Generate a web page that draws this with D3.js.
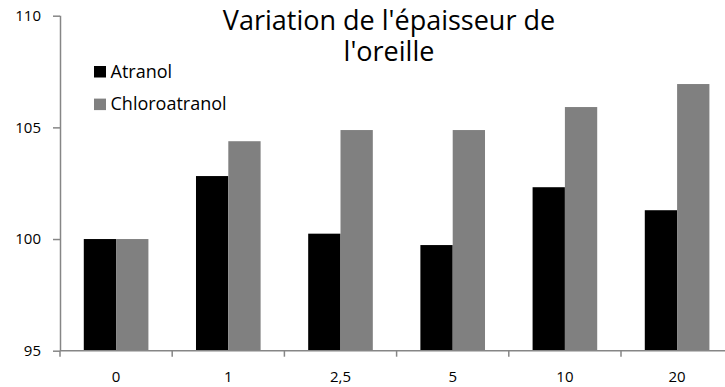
<!DOCTYPE html>
<html>
<head>
<meta charset="utf-8">
<script src="https://cdn.jsdelivr.net/npm/d3@7"></script>
<style>
  html, body { margin: 0; padding: 0; background: #fff; }
  svg { display: block; font-family: "Open Sans", Lato, sans-serif; }
</style>
</head>
<body>
<svg id="chart" width="725" height="387"></svg>
<script>
// Doses (x categories) and ear-thickness variation per compound
const categories = ["0", "1", "2,5", "5", "10", "20"];
const seriesNames = ["Atranol", "Chloroatranol"];
const atranol = [100, 102.82, 100.24, 99.73, 102.32, 101.29];
const chloroatranol = [100, 104.38, 104.88, 104.88, 105.91, 106.94];
const yTicks = [95, 100, 105, 110];
const titleLines = ["Variation de l'épaisseur de", "l'oreille"];

const colors = { "Atranol": "#000000", "Chloroatranol": "#808080" };
const axisColor = "#868686";

const svg = d3.select("#chart");

const plotLeft = 60, plotTop = 15.7, plotBottom = 350.7, step = 112.2;

const x0 = d3.scaleBand()
  .domain(categories)
  .range([plotLeft, plotLeft + step * categories.length])
  .paddingInner(0.424)
  .paddingOuter(0.212);

const x1 = d3.scaleBand()
  .domain(seriesNames)
  .range([0, x0.bandwidth()]);

const y = d3.scaleLinear().domain([95, 110]).range([plotBottom, plotTop]);

const rows = categories.map((c, i) => ({
  cat: c,
  values: [
    { name: "Atranol", v: atranol[i] },
    { name: "Chloroatranol", v: chloroatranol[i] }
  ]
}));

// Bars
const groups = svg.append("g").selectAll("g")
  .data(rows).join("g")
  .attr("transform", d => `translate(${x0(d.cat)},0)`);

groups.selectAll("rect")
  .data(d => d.values).join("rect")
  .attr("x", d => x1(d.name))
  .attr("width", x1.bandwidth())
  .attr("y", d => y(d.v))
  .attr("height", d => y(95) - y(d.v))
  .attr("fill", d => colors[d.name]);

// Y axis
const yAxis = svg.append("g")
  .attr("transform", `translate(${plotLeft},0)`)
  .call(d3.axisLeft(y).tickValues(yTicks).tickSize(7).tickPadding(12).tickFormat(d3.format("d")));
yAxis.select(".domain").attr("stroke", axisColor).attr("stroke-width", 1.5)
  .attr("d", `M0.5,${plotTop}V${plotBottom}`);
yAxis.selectAll(".tick line").attr("stroke", axisColor).attr("stroke-width", 1.5);
yAxis.selectAll(".tick text").attr("fill", "#000").style("font-size", "15px")
  .style("font-family", "'Open Sans', sans-serif");

// X axis with ticks at category boundaries
const xAxisG = svg.append("g").attr("transform", `translate(0,${plotBottom})`);
const xEnd = plotLeft + step * categories.length;
xAxisG.append("line")
  .attr("x1", plotLeft).attr("x2", xEnd)
  .attr("stroke", axisColor).attr("stroke-width", 1.5);
const bounds = d3.range(categories.length + 1).map(i => plotLeft + step * i);
xAxisG.selectAll("line.tk").data(bounds).join("line")
  .attr("class", "tk")
  .attr("x1", d => d).attr("x2", d => d)
  .attr("y1", 0).attr("y2", 6)
  .attr("stroke", axisColor).attr("stroke-width", 1.5);
xAxisG.selectAll("text").data(categories).join("text")
  .attr("x", d => x0(d) + x0.bandwidth() / 2)
  .attr("y", 31)
  .attr("text-anchor", "middle")
  .style("font-size", "15px")
  .text(d => d);

// Title
svg.append("text")
  .attr("x", 389).attr("y", 30)
  .attr("text-anchor", "middle")
  .style("font-size", "27px")
  .selectAll("tspan").data(titleLines).join("tspan")
  .attr("x", 389)
  .attr("dy", (d, i) => i === 0 ? 0 : 31)
  .text(d => d);

// Legend
const legend = svg.append("g");
seriesNames.forEach((name, i) => {
  const ly = 66 + i * 32.6;
  legend.append("rect")
    .attr("x", 94).attr("y", ly)
    .attr("width", 12).attr("height", 11.5)
    .attr("fill", colors[name]);
  legend.append("text")
    .attr("x", 110.5).attr("y", ly + 11.5)
    .style("font-size", "18px")
    .text(name);
});
</script>
</body>
</html>
